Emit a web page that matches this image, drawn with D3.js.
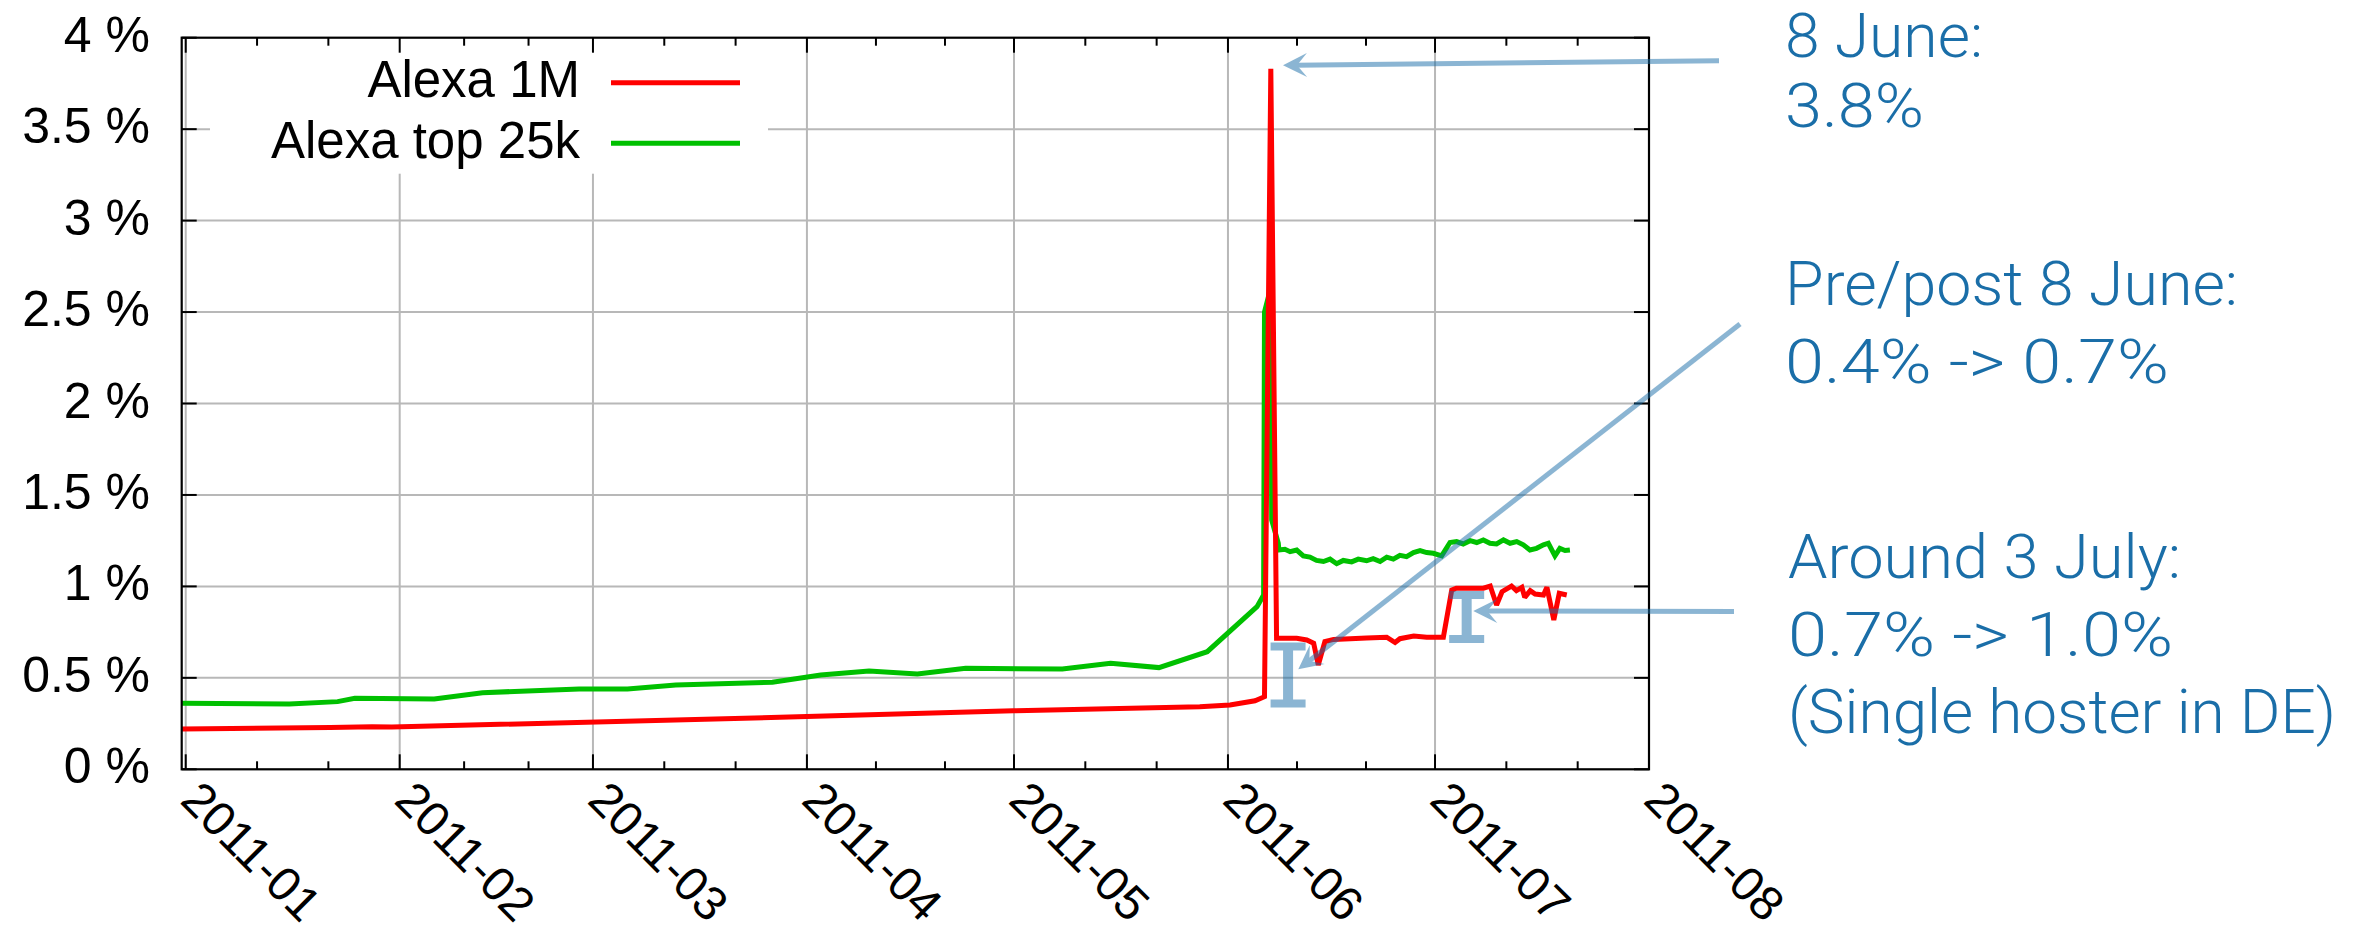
<!DOCTYPE html>
<html><head><meta charset="utf-8">
<script src="https://cdn.jsdelivr.net/npm/d3@7"></script>
<style>
html,body{margin:0;padding:0;background:#fff;}
svg{display:block;}
</style></head><body>
<svg id="chart" width="2366" height="937"></svg>
<script>
// ---------------- data ----------------
const seriesNames = ["Alexa 1M", "Alexa top 25k"];
const seriesColors = ["#ff0000", "#00c000"];

const redDates = ["2010-12-31 10","2011-01-21 22","2011-01-28 00","2011-01-30 21","2011-03-28 02","2011-04-30 22","2011-05-27 22","2011-06-01 07","2011-06-04 22","2011-06-06 07","2011-06-07 05","2011-06-08 01","2011-06-10 23","2011-06-12 10","2011-06-13 10","2011-06-14 02","2011-06-15 01","2011-06-16 07","2011-06-18 17","2011-06-21 02","2011-06-24 00","2011-06-25 05","2011-06-25 22","2011-06-27 22","2011-06-29 19","2011-07-02 05","2011-07-03 10","2011-07-04 02","2011-07-08 00","2011-07-09 00","2011-07-09 22","2011-07-10 17","2011-07-12 02","2011-07-12 19","2011-07-13 14","2011-07-14 00","2011-07-14 19","2011-07-15 12","2011-07-16 17","2011-07-17 05","2011-07-18 05","2011-07-19 00","2011-07-20 02"];
const redValues = [0.220,0.228,0.232,0.231,0.284,0.320,0.342,0.352,0.375,0.397,3.83,0.716,0.716,0.707,0.689,0.570,0.698,0.710,0.714,0.718,0.722,0.693,0.714,0.729,0.722,0.722,0.980,0.990,0.990,1.002,0.898,0.971,1.002,0.977,0.995,0.940,0.977,0.958,0.953,0.995,0.817,0.962,0.953];

const greenDates = ["2010-12-31 10","2011-01-16 00","2011-01-23 00","2011-01-25 12","2011-02-06 00","2011-02-13 00","2011-02-27 00","2011-03-06 00","2011-03-13 00","2011-03-27 00","2011-04-03 00","2011-04-10 00","2011-04-17 00","2011-04-24 00","2011-05-08 00","2011-05-15 00","2011-05-22 00","2011-05-29 00","2011-06-05 05","2011-06-06 04","2011-06-06 07","2011-06-07 06","2011-06-07 08","2011-06-08 07","2011-06-08 09","2011-06-09 06","2011-06-10 00","2011-06-10 23","2011-06-11 22","2011-06-12 21","2011-06-13 20","2011-06-14 20","2011-06-15 19","2011-06-16 18","2011-06-17 17","2011-06-18 22","2011-06-19 21","2011-06-21 02","2011-06-22 01","2011-06-23 01","2011-06-24 00","2011-06-24 23","2011-06-25 22","2011-06-26 21","2011-06-27 21","2011-06-28 20","2011-06-29 19","2011-06-30 18","2011-07-01 23","2011-07-03 04","2011-07-04 03","2011-07-05 02","2011-07-06 02","2011-07-07 01","2011-07-08 00","2011-07-08 23","2011-07-09 22","2011-07-10 22","2011-07-11 21","2011-07-12 20","2011-07-13 19","2011-07-14 18","2011-07-15 17","2011-07-16 17","2011-07-17 10","2011-07-18 09","2011-07-19 02","2011-07-19 20","2011-07-20 13"];
const greenValues = [0.361,0.357,0.370,0.388,0.384,0.419,0.439,0.439,0.461,0.476,0.516,0.537,0.521,0.552,0.548,0.580,0.556,0.643,0.889,0.953,2.50,2.64,1.363,1.236,1.199,1.203,1.190,1.199,1.167,1.160,1.142,1.136,1.149,1.124,1.142,1.134,1.149,1.140,1.152,1.136,1.160,1.149,1.170,1.163,1.185,1.196,1.185,1.181,1.167,1.240,1.245,1.232,1.250,1.240,1.254,1.236,1.232,1.254,1.236,1.245,1.227,1.199,1.208,1.227,1.236,1.167,1.208,1.196,1.199];

const monthTicks = ["2011-01-01 00","2011-02-01 00","2011-03-01 00","2011-04-01 00","2011-05-01 00","2011-06-01 00","2011-07-01 00","2011-08-01 00"];
const monthLabels = ["2011-01","2011-02","2011-03","2011-04","2011-05","2011-06","2011-07","2011-08"];
const yTickValues = [0,0.5,1,1.5,2,2.5,3,3.5,4];
const yTickLabels = ["0 %","0.5 %","1 %","1.5 %","2 %","2.5 %","3 %","3.5 %","4 %"];

const noteBlocks = [
  ["8 June:", "3.8%"],
  ["Pre/post 8 June:", "0.4% -> 0.7%"],
  ["Around 3 July:", "0.7% -> 1.0%", "(Single hoster in DE)"]
];
// ranges marked with I-beams: [date, low, high]
const rangeDates = ["2011-06-09 17", "2011-07-05 14"];
const rangeLows = [0.36, 0.712];
const rangeHighs = [0.672, 0.953];

// ---------------- layout ----------------
const W = 2366, H = 937;
const L = 181.7, R = 1649, T = 37.7, B = 769.3;
const parse = d3.utcParse("%Y-%m-%d %H");
const svg = d3.select("#chart");
svg.append("rect").attr("width", W).attr("height", H).attr("fill", "#fff");

const x = d3.scaleUtc().domain([parse(redDates[0]), parse(monthTicks[monthTicks.length - 1])]).range([L, R]);
const y = d3.scaleLinear().domain([0, 4]).range([B, T]);
const FONT = "'Liberation Sans', Arial, Helvetica, sans-serif";

// grid
const grid = svg.append("g").attr("stroke", "#b8b8b8").attr("stroke-width", 2);
grid.selectAll("line.v").data(monthTicks.slice(0, -1)).join("line")
  .attr("x1", d => x(parse(d))).attr("x2", d => x(parse(d)))
  .attr("y1", T).attr("y2", B);
grid.selectAll("line.h").data(yTickValues.slice(1, -1)).join("line")
  .attr("x1", L).attr("x2", R).attr("y1", d => y(d)).attr("y2", d => y(d));

// legend box (covers grid)
svg.append("rect").attr("x", 210).attr("y", T + 1).attr("width", 558).attr("height", 135).attr("fill", "#fff");

// series
const line = d3.line().x(d => x(d.t)).y(d => y(d.v));
const series = [
  redDates.map((d, i) => ({t: parse(d), v: redValues[i]})),
  greenDates.map((d, i) => ({t: parse(d), v: greenValues[i]}))
];
[1, 0].forEach(i => {
  svg.append("path").datum(series[i]).attr("d", line)
    .attr("fill", "none").attr("stroke", seriesColors[i]).attr("stroke-width", 5)
    .attr("stroke-linejoin", "miter").attr("stroke-miterlimit", 2);
});

// border
svg.append("rect").attr("x", L).attr("y", T).attr("width", R - L).attr("height", B - T)
  .attr("fill", "none").attr("stroke", "#000").attr("stroke-width", 2.2);

// ticks
const tk = svg.append("g").attr("stroke", "#000").attr("stroke-width", 2);
const mx = monthTicks.map(d => x(parse(d)));
mx.forEach(px => {
  tk.append("line").attr("x1", px).attr("x2", px).attr("y1", B).attr("y2", B - 15);
  tk.append("line").attr("x1", px).attr("x2", px).attr("y1", T).attr("y2", T + 15);
});
for (let i = 0; i < mx.length - 1; i++) {
  for (let k = 1; k < 3; k++) {
    const px = mx[i] + (mx[i + 1] - mx[i]) * k / 3;
    tk.append("line").attr("x1", px).attr("x2", px).attr("y1", B).attr("y2", B - 8);
    tk.append("line").attr("x1", px).attr("x2", px).attr("y1", T).attr("y2", T + 8);
  }
}
yTickValues.forEach(v => {
  tk.append("line").attr("x1", L).attr("x2", L + 15).attr("y1", y(v)).attr("y2", y(v));
  tk.append("line").attr("x1", R).attr("x2", R - 15).attr("y1", y(v)).attr("y2", y(v));
});

// y labels
svg.append("g")
  .selectAll("text").data(yTickValues).join("text")
  .attr("x", 150).attr("y", d => y(d) + 14)
  .attr("text-anchor", "end").attr("font-family", FONT).attr("font-size", 50).attr("fill", "#000")
  .text((d, i) => yTickLabels[i]);

// x labels
svg.append("g").selectAll("text").data(monthTicks).join("text")
  .attr("transform", d => `translate(${x(parse(d)) - 7},802) rotate(45)`)
  .attr("font-family", FONT).attr("font-size", 48).attr("fill", "#000")
  .text((d, i) => monthLabels[i]);

// legend
const legY = [82.7, 143.3];
seriesNames.forEach((n, i) => {
  svg.append("text").attr("x", 580).attr("y", legY[i] + 14.5).attr("text-anchor", "end")
    .attr("font-family", FONT).attr("font-size", 51).attr("fill", "#000").text(n);
  svg.append("line").attr("x1", 611).attr("x2", 740).attr("y1", legY[i]).attr("y2", legY[i])
    .attr("stroke", seriesColors[i]).attr("stroke-width", 5);
});

// ---------------- annotations ----------------
const ANN = "#1a6ea8";
const annG = svg.append("g").attr("opacity", 0.5);
function arrow(x1, y1, x2, y2) {
  const g = annG.append("g");
  const dx = x2 - x1, dy = y2 - y1, len = Math.hypot(dx, dy);
  const ux = dx / len, uy = dy / len, nx = -uy, ny = ux;
  const hl = 24, hw = 12, notch = 14;
  const bx = x2 - ux * hl, by = y2 - uy * hl;
  const kx = x2 - ux * notch, ky = y2 - uy * notch;
  g.append("line").attr("x1", x1).attr("y1", y1).attr("x2", kx + ux * 2).attr("y2", ky + uy * 2)
    .attr("stroke", ANN).attr("stroke-width", 5);
  g.append("path").attr("d", `M${x2},${y2}L${bx + nx * hw},${by + ny * hw}L${kx},${ky}L${bx - nx * hw},${by - ny * hw}Z`)
    .attr("fill", ANN);
}
arrow(1719, 60.7, 1283, 65.3);
arrow(1740, 324, 1298.3, 669.3);
arrow(1734, 611.5, 1473.3, 611);

rangeDates.forEach((d, i) => {
  const cx = x(parse(d)), yt = y(rangeHighs[i]), yb = y(rangeLows[i]);
  const hw = 17.5, ct = 8, sw = 10;
  annG.append("path").attr("fill", ANN).attr("d",
    `M${cx - hw},${yt - ct / 2}H${cx + hw}V${yt + ct / 2}H${cx + sw / 2}V${yb - ct / 2}H${cx + hw}V${yb + ct / 2}H${cx - hw}V${yb - ct / 2}H${cx - sw / 2}V${yt + ct / 2}H${cx - hw}Z`);
});

const noteBaselines = [[57, 127], [305, 382.5], [578, 655.5, 733]];
const noteWidths = [[198, 139], [453, 384], [393, 385, 548]];
const noteX = [1785, 1785, 1788];
const NFONT = "Roboto, 'Liberation Sans', sans-serif";
noteBlocks.forEach((lines, b) => {
  lines.forEach((s, k) => {
    svg.append("text").attr("x", noteX[b]).attr("y", noteBaselines[b][k])
      .attr("font-family", NFONT).attr("font-weight", 300).attr("font-size", 61)
      .attr("fill", ANN)
      .attr("textLength", noteWidths[b][k]).attr("lengthAdjust", "spacingAndGlyphs")
      .text(s);
  });
});
</script>
</body></html>
